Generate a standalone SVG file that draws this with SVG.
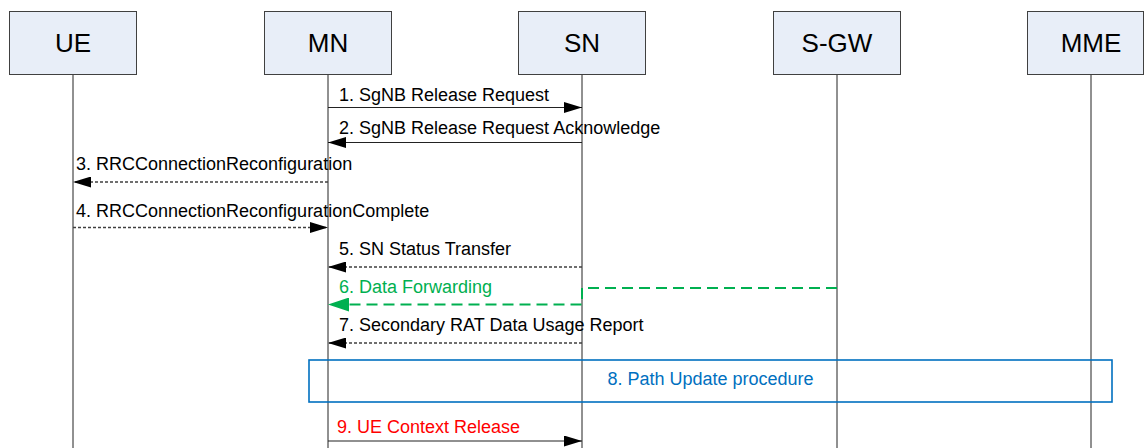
<svg xmlns="http://www.w3.org/2000/svg" width="1144" height="448" viewBox="0 0 1144 448">
<style>
.box{fill:#E8EEF8;stroke:#404040;stroke-width:1}
.nl{font-family:"Liberation Sans",Arial,sans-serif;font-size:26px;fill:#000;text-anchor:middle}
.life{stroke:#222;stroke-width:1;fill:none}
.lbl{font-family:"Liberation Sans",Arial,sans-serif;font-size:18px;fill:#000}
.solid{stroke:#222;stroke-width:1.2;fill:none}
.dash{stroke:#404040;stroke-width:1.3;stroke-dasharray:3 2;fill:none}
.gdash{stroke:#00B050;stroke-width:2;stroke-dasharray:11 6;fill:none}
</style>
<defs>
<marker id="ah" markerWidth="18" markerHeight="11" refX="18" refY="5.5" orient="auto" markerUnits="userSpaceOnUse"><path d="M0,0 L18,5.5 L0,11 z" fill="#000"/></marker>
<marker id="gah" markerWidth="21" markerHeight="14" refX="21" refY="7" orient="auto" markerUnits="userSpaceOnUse"><path d="M0,0 L21,7 L0,14 z" fill="#00B050"/></marker>
</defs>
<g id="lifelines">
<line class="life" x1="73" y1="74" x2="73" y2="448"/>
<line class="life" x1="328" y1="74" x2="328" y2="448"/>
<line class="life" x1="582" y1="74" x2="582" y2="448"/>
<line class="life" x1="837" y1="74" x2="837" y2="448"/>
<line class="life" x1="1091" y1="74" x2="1091" y2="448"/>
</g>
<g id="UE"><rect class="box" x="9.5" y="11.5" width="127" height="63"/><text class="nl" x="73" y="52">UE</text></g>
<g id="MN"><rect class="box" x="264.5" y="11.5" width="127" height="63"/><text class="nl" x="328" y="52">MN</text></g>
<g id="SN"><rect class="box" x="518.5" y="11.5" width="127" height="63"/><text class="nl" x="582" y="52">SN</text></g>
<g id="SGW"><rect class="box" x="773.5" y="11.5" width="127" height="63"/><text class="nl" x="837" y="52">S-GW</text></g>
<g id="MME"><rect class="box" x="1027.5" y="11.5" width="116" height="63"/><text class="nl" x="1091" y="52">MME</text></g>
<g id="procedure8">
<rect x="309" y="360" width="803" height="42" fill="none" stroke="#0070C0" stroke-width="1.6"/>
<text class="lbl" x="710.5" y="385" text-anchor="middle" style="fill:#0070C0">8. Path Update procedure</text>
</g>
<g id="connectors">
<line class="solid" x1="328" y1="107.5" x2="582" y2="107.5" marker-end="url(#ah)"/>
<text class="lbl" x="339" y="101">1. SgNB Release Request</text>
<line class="solid" x1="582" y1="142.5" x2="328" y2="142.5" marker-end="url(#ah)"/>
<text class="lbl" x="339" y="134">2. SgNB Release Request Acknowledge</text>
<line class="dash" x1="328" y1="182" x2="73" y2="182" marker-end="url(#ah)"/>
<text class="lbl" x="76" y="170">3. RRCConnectionReconfiguration</text>
<line class="dash" x1="73" y1="227.5" x2="328" y2="227.5" marker-end="url(#ah)"/>
<text class="lbl" x="76" y="217">4. RRCConnectionReconfigurationComplete</text>
<line class="dash" x1="582" y1="267" x2="328" y2="267" marker-end="url(#ah)"/>
<text class="lbl" x="339" y="255">5. SN Status Transfer</text>
<polyline class="gdash" points="837,288 582,288 582,304.5 328,304.5" marker-end="url(#gah)"/>
<text class="lbl" x="339" y="293" style="fill:#00B050">6. Data Forwarding</text>
<line class="dash" x1="582" y1="343" x2="328" y2="343" marker-end="url(#ah)"/>
<text class="lbl" x="339" y="331">7. Secondary RAT Data Usage Report</text>
<line class="solid" x1="328" y1="441" x2="582" y2="441" marker-end="url(#ah)"/>
<text class="lbl" x="337" y="433" style="fill:#FF0000">9. UE Context Release</text>
</g>
</svg>
